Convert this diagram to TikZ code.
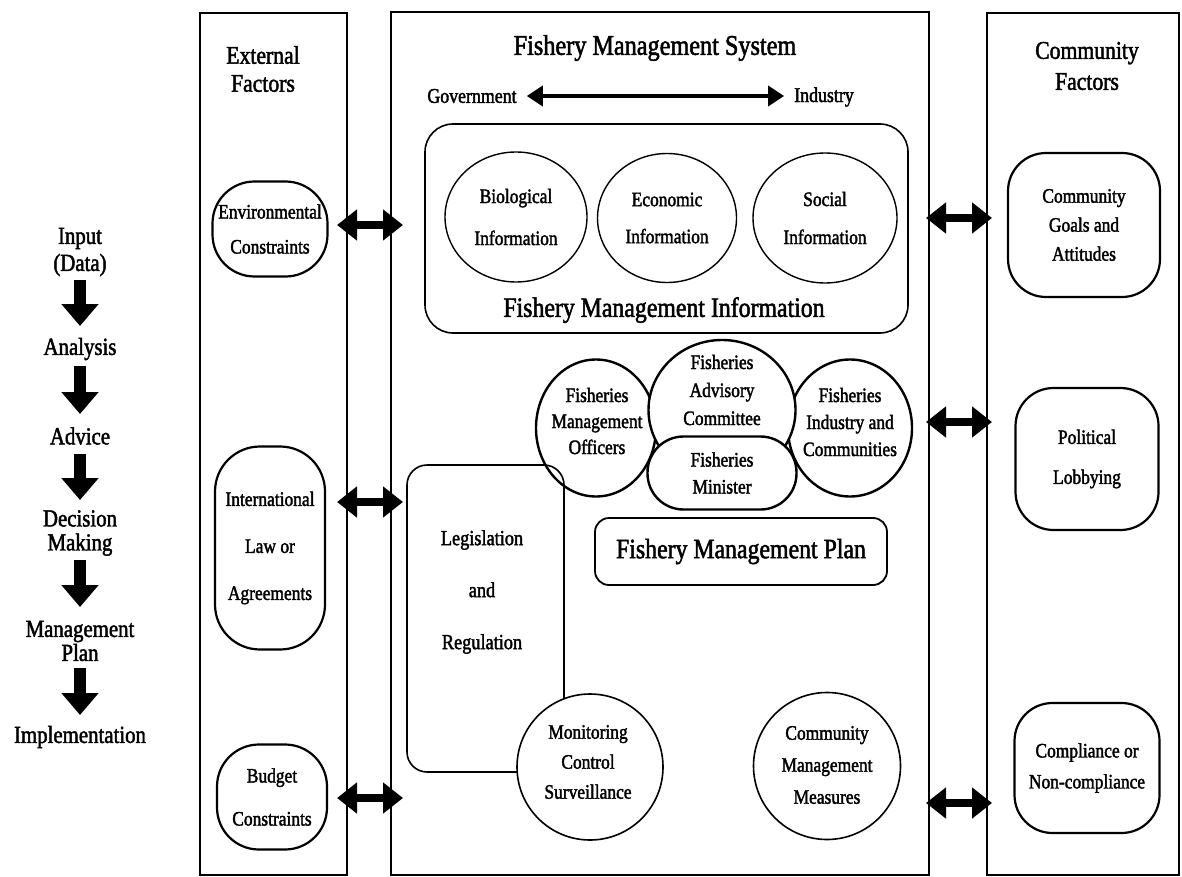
\documentclass[tikz,border=0pt]{standalone}
\usepackage{fontspec}
\setmainfont{Liberation Serif}[FakeBold=1.8, FakeStretch=0.85]
\usetikzlibrary{arrows.meta,shapes.geometric}

\newcommand\fs[2]{\fontsize{#1}{#2}\selectfont}

\begin{document}
\begin{tikzpicture}[x=1pt,y=-1pt,
  lbl/.style={align=center, inner sep=0pt},
  colbox/.style={draw, line width=2.6pt},
  sysbox/.style={draw, line width=1.8pt},
  sidebox/.style={draw, line width=2.2pt, align=center, inner sep=0pt},
  infoell/.style={draw, ellipse, line width=1.4pt, inner sep=0pt},
  bodyell/.style={draw, ellipse, line width=2.4pt, fill=white, inner sep=0pt},
  fatboth/.style={line width=8pt, {Triangle[length=20pt,width=30pt]}-{Triangle[length=20pt,width=30pt]}},
  thinboth/.style={line width=4.5pt, {Triangle[length=16pt,width=20pt]}-{Triangle[length=16pt,width=20pt]}},
  downarrow/.style={line width=12pt, -{Triangle[length=22pt,width=36pt]}},
]
\useasboundingbox (0,0) rectangle (1182,877);
\fill[white] (0,0) rectangle (1182,877);

% ---- process sequence on the left ----
\node[lbl, font=\fs{24.5}{27}] (input)    at (80,252) {Input\\(Data)};
\node[lbl, font=\fs{24.5}{24}] (analysis) at (80,349) {Analysis};
\node[lbl, font=\fs{24.5}{24}] (advice)   at (80,436) {Advice};
\node[lbl, font=\fs{24.5}{24}] (decision) at (80,533) {Decision\\Making};
\node[lbl, font=\fs{24.5}{24}] (mplan)    at (80,641) {Management\\Plan};
\node[lbl, font=\fs{24.5}{24}] (impl)     at (80,737) {Implementation};

\coordinate (s1a) at (80,280); \coordinate (s1b) at (80,326);
\coordinate (s2a) at (80,366); \coordinate (s2b) at (80,414);
\coordinate (s3a) at (80,454); \coordinate (s3b) at (80,500);
\coordinate (s4a) at (80,560); \coordinate (s4b) at (80,607);
\coordinate (s5a) at (80,668); \coordinate (s5b) at (80,715);
\draw[downarrow] (s1a) -- (s1b);
\draw[downarrow] (s2a) -- (s2b);
\draw[downarrow] (s3a) -- (s3b);
\draw[downarrow] (s4a) -- (s4b);
\draw[downarrow] (s5a) -- (s5b);

% ---- the three columns ----
\draw[colbox] (200,13) rectangle (347,875);
\draw[sysbox] (391,12) rectangle (929,875);
\draw[colbox] (987,13) rectangle (1179,875);

% ---- external factors ----
\node[lbl, font=\fs{25.5}{28}] (exthead) at (263,69) {External\\Factors};
\node[sidebox, minimum width=115pt, minimum height=95pt, rounded corners=42pt,
      font=\fs{20.5}{35}] (env) at (270,229) {Environmental\\Constraints};
\node[sidebox, minimum width=110pt, minimum height=203pt, rounded corners=45pt,
      font=\fs{20.5}{47}] (intl) at (270,548) {International\\Law or\\Agreements};
\node[sidebox, minimum width=110pt, minimum height=105pt, rounded corners=42pt,
      font=\fs{20.5}{43}] (budget) at (272,797) {Budget\\Constraints};

% ---- community factors ----
\node[lbl, font=\fs{25.5}{31}] (comhead) at (1087,66) {Community\\Factors};
\node[sidebox, minimum width=152pt, minimum height=144pt, rounded corners=38pt,
      font=\fs{20.5}{29}] (goals) at (1084,225) {Community\\Goals and\\Attitudes};
\node[sidebox, minimum width=143pt, minimum height=142pt, rounded corners=38pt,
      font=\fs{20.5}{40}] (lobby) at (1087,459) {Political\\Lobbying};
\node[sidebox, minimum width=145pt, minimum height=130pt, rounded corners=38pt,
      font=\fs{20.5}{31}] (comply) at (1087,768) {Compliance or\\Non-compliance};

% ---- fishery management system ----
\node[lbl, font=\fs{28.5}{28}] (fmstitle) at (655,48) {Fishery Management System};
\node[lbl, font=\fs{21}{22}] (gov) at (472,96) {Government};
\node[lbl, font=\fs{21}{22}] (ind) at (824,97) {Industry};
\path (gov.east) ++(10,0) coordinate (govr);
\path (ind.west) ++(-10,0) coordinate (indl);
\draw[thinboth] (govr) -- (indl |- govr);

% information panel
\node[draw, line width=1.6pt, rounded corners=28pt, minimum width=483pt, minimum height=209pt]
  (infobox) at (666.5,228.5) {};
\node[infoell, minimum width=142pt, minimum height=130pt] (bio) at (516,217) {};
\node[infoell, minimum width=139pt, minimum height=129pt] (eco) at (667,218) {};
\node[infoell, minimum width=144pt, minimum height=130pt] (soc) at (825,218) {};
\node[lbl, font=\fs{20.5}{42}] at (bio) {Biological\\Information};
\node[lbl, font=\fs{20.5}{37}] at (eco) {Economic\\Information};
\node[lbl, font=\fs{20.5}{38}] at (soc) {Social\\Information};
\node[lbl, font=\fs{28}{28}] (fmitext) at (664,310) {Fishery Management Information};

% decision makers
\node[bodyell, minimum width=120pt, minimum height=137pt] (officers) at (596,428) {};
\node[bodyell, minimum width=124pt, minimum height=137pt] (indcom) at (850,428) {};
\node[bodyell, minimum width=147pt, minimum height=140pt] (advisory) at (722,410) {};
\node[draw, line width=2.4pt, fill=white, rounded corners=36pt, minimum width=149pt,
      minimum height=73pt] (minister) at (722,473) {};
\node[lbl, font=\fs{20.5}{26}] at (597,421) {Fisheries\\Management\\Officers};
\node[lbl, font=\fs{20.5}{27}] at (850,422) {Fisheries\\Industry and\\Communities};
\node[lbl, font=\fs{20.5}{28}] at (722,390) {Fisheries\\Advisory\\Committee};
\node[lbl, font=\fs{20.5}{27}] at (minister) {Fisheries\\Minister};

% plan, legislation, measures
\node[draw, line width=1.8pt, rounded corners=14pt, minimum width=292pt, minimum height=67pt,
      font=\fs{28}{28}] (fmp) at (741,551.5) {Fishery Management Plan};
\node[draw, line width=1.6pt, rounded corners=20pt, minimum width=157pt, minimum height=307pt]
  (legis) at (485.5,618.5) {};
\node[lbl, font=\fs{21.5}{52}] at (482,592) {Legislation\\and\\Regulation};
\node[draw, circle, line width=1.6pt, fill=white, minimum size=146pt, inner sep=0pt] (mcs) at (590,767) {};
\node[lbl, font=\fs{20.5}{30}] at (588,762) {Monitoring\\Control\\Surveillance};
\node[draw, circle, line width=1.6pt, minimum size=147pt, inner sep=0pt] (cmm) at (827,766) {};
\node[lbl, font=\fs{20.5}{32}] at (827,765) {Community\\Management\\Measures};

% ---- links across the column borders ----
\coordinate (eL1) at (337,225); \coordinate (eR1) at (403,225);
\coordinate (eL2) at (337,502); \coordinate (eR2) at (403,502);
\coordinate (eL3) at (337,798); \coordinate (eR3) at (403,798);
\coordinate (cL1) at (926,218); \coordinate (cR1) at (992,218);
\coordinate (cL2) at (926,422); \coordinate (cR2) at (992,422);
\coordinate (cL3) at (926,803); \coordinate (cR3) at (992,803);
\draw[fatboth] (eL1) -- (eR1);
\draw[fatboth] (eL2) -- (eR2);
\draw[fatboth] (eL3) -- (eR3);
\draw[fatboth] (cL1) -- (cR1);
\draw[fatboth] (cL2) -- (cR2);
\draw[fatboth] (cL3) -- (cR3);
\end{tikzpicture}
\end{document}
